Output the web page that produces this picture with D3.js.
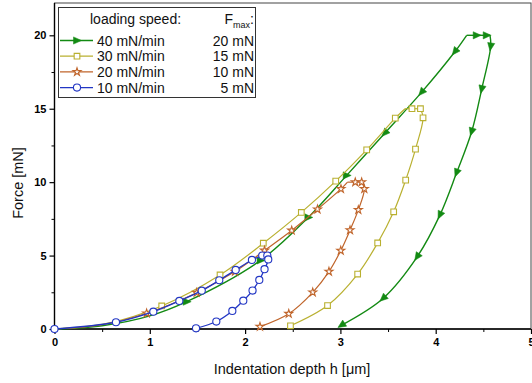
<!DOCTYPE html>
<html>
<head>
<meta charset="utf-8">
<script src="https://cdn.jsdelivr.net/npm/d3@7"></script>
<style>
  body { margin: 0; background: #fff; }
  svg { display: block; font-family: "Liberation Sans", Arial, sans-serif; }
</style>
</head>
<body>
<svg id="chart" width="532" height="383"></svg>
<script>
// [depth h (µm), force (mN), has marker]
const load40 = [[0,0,0],[0.5,0.22,0],[1.0,0.89,0],[1.387,1.86,1],[2.162,4.67,1],[2.663,7.6,1],[3.066,10.46,1],[3.468,13.35,1],[3.853,16.13,1],[4.203,18.9,1],[4.325,20,0]];
const hold40 = [[4.325,20,0],[4.43,20,1],[4.535,20,1],[4.57,20,0]];
const unload40 = [[4.57,20,0],[4.577,19.24,1],[4.483,16.34,1],[4.378,13.45,1],[4.22,10.65,1],[4.045,7.77,1],[3.807,4.93,1],[3.45,2.1,1],[3.014,0.27,1]];

const load30 = [[0,0,0],[0.55,0.38,0],[1.125,1.57,1],[1.737,3.68,1],[2.191,5.84,1],[2.59,7.94,1],[2.951,10.07,1],[3.276,12.2,1],[3.576,14.36,1],[3.678,15,0]];
const hold30 = [[3.678,15,0],[3.751,15,1],[3.84,15,1]];
const unload30 = [[3.84,15,0],[3.867,14.38,1],[3.788,12.25,1],[3.685,10.14,1],[3.559,7.98,1],[3.391,5.86,1],[3.181,3.74,1],[2.865,1.6,1],[2.476,0.22,1]];

const load20 = [[0,0,0],[0.5,0.29,0],[0.967,1.07,1],[1.492,2.47,1],[1.894,3.91,1],[2.204,5.35,1],[2.489,6.71,1],[2.76,8.15,1],[3.006,9.54,1],[3.075,10,0]];
const hold20 = [[3.075,10,0],[3.156,10,1],[3.223,10,1]];
const unload20 = [[3.223,10,0],[3.251,9.54,1],[3.188,8.11,1],[3.101,6.73,1],[3.004,5.34,1],[2.88,3.91,1],[2.71,2.5,1],[2.458,1.04,1],[2.156,0.16,1]];

const load10 = [[0,0,1],[0.645,0.46,1],[1.037,1.18,1],[1.31,1.91,1],[1.545,2.61,1],[1.729,3.32,1],[1.901,4.02,1],[2.072,4.7,1],[2.18,5,0]];
const hold10 = [[2.18,5,1],[2.233,5,1]];
const unload10 = [[2.233,5,0],[2.243,4.74,1],[2.204,4.07,1],[2.149,3.34,1],[2.078,2.62,1],[1.981,1.93,1],[1.866,1.23,1],[1.698,0.51,1],[1.485,0.05,1]];

const speedLabels = ['40 mN/min', '30 mN/min', '20 mN/min', '10 mN/min'];
const fmaxLabels = ['20 mN', '15 mN', '10 mN', '5 mN'];
const xTicks = [0, 1, 2, 3, 4, 5];
const yTicks = [0, 5, 10, 15, 20];

const series = [
  { name: speedLabels[0], phases: [load40, hold40, unload40], color: '#138a13', marker: 'tri', width: 1.4 },
  { name: speedLabels[1], phases: [load30, hold30, unload30], color: '#b9b030', marker: 'square', width: 1.2 },
  { name: speedLabels[2], phases: [load20, hold20, unload20], color: '#c0652b', marker: 'star', width: 1.2 },
  { name: speedLabels[3], phases: [load10, hold10, unload10], color: '#2236c4', marker: 'circle', width: 1.3 }
];

const svg = d3.select('#chart');
const x = d3.scaleLinear().domain([0, 5]).range([54.5, 531]);
const y = d3.scaleLinear().domain([0, 22.2]).range([329, 3]);

// frame
svg.append('rect')
  .attr('x', x(0)).attr('y', y(22.2))
  .attr('width', x(5) - x(0)).attr('height', y(0) - y(22.2))
  .attr('fill', 'none').attr('stroke', '#444').attr('stroke-width', 1);

// minor ticks
svg.append('g').attr('transform', `translate(0,${y(0)})`)
  .call(d3.axisBottom(x).tickValues(d3.range(0.5, 5, 1)).tickSize(3).tickFormat(''))
  .call(g => g.select('.domain').remove());
svg.append('g').attr('transform', `translate(${x(0)},0)`)
  .call(d3.axisLeft(y).tickValues([2.5, 7.5, 12.5, 17.5]).tickSize(3).tickFormat(''))
  .call(g => g.select('.domain').remove());

const xAxis = svg.append('g').attr('transform', `translate(0,${y(0)})`)
  .call(d3.axisBottom(x).tickValues(xTicks).tickFormat(d3.format('d')).tickSize(5).tickPadding(4).tickSizeOuter(0));
const yAxis = svg.append('g').attr('transform', `translate(${x(0)},0)`)
  .call(d3.axisLeft(y).tickValues(yTicks).tickFormat(d3.format('d')).tickSize(5).tickPadding(3).tickSizeOuter(0));

[xAxis, yAxis].forEach(a => {
  a.select('.domain').attr('stroke', '#000').attr('stroke-width', 1.4);
  a.selectAll('.tick line').attr('stroke', '#000').attr('stroke-width', 1.2);
  a.selectAll('.tick text').attr('font-size', 11).attr('font-weight', 'bold')
    .attr('fill', '#000').attr('font-family', '"Liberation Sans", Arial, sans-serif');
});
svg.selectAll('.tick line').attr('stroke', '#000');
yAxis.select('.domain').attr('d', `M0,${y(0)}V${y(22.2)}`);
xAxis.select('.domain').attr('d', `M${x(0)},0H${x(5)}`);

// axis titles
svg.append('text')
  .attr('x', 292).attr('y', 374).attr('text-anchor', 'middle')
  .attr('font-size', 14.5).attr('fill', '#111')
  .text('Indentation depth h [μm]');
svg.append('text')
  .attr('transform', 'translate(23,183) rotate(-90)').attr('text-anchor', 'middle')
  .attr('font-size', 14.5).attr('fill', '#111')
  .text('Force [mN]');

// markers
function drawMarker(g, type, color, cx, cy, angle) {
  if (type === 'tri') {
    g.append('path')
      .attr('d', 'M4.5,0L-3.5,-3.6L-3.5,3.6Z')
      .attr('transform', `translate(${cx},${cy}) rotate(${angle})`)
      .attr('fill', color).attr('stroke', color).attr('stroke-width', 0.5);
  } else {
    const sym = type === 'square' ? d3.symbolSquare : type === 'star' ? d3.symbolStar : d3.symbolCircle;
    const size = type === 'square' ? 32 : type === 'star' ? 20 : 40;
    g.append('path')
      .attr('d', d3.symbol().type(sym).size(size)())
      .attr('transform', `translate(${cx},${cy})`)
      .attr('fill', '#fff').attr('stroke', color).attr('stroke-width', 1.1);
  }
}

const line = d3.line().x(d => x(d[0])).y(d => y(d[1]));
const curved = d3.line().x(d => x(d[0])).y(d => y(d[1])).curve(d3.curveCatmullRom.alpha(0.5));

series.forEach(s => {
  const g = svg.append('g');
  s.phases.forEach((pts, pi) => {
    g.append('path').datum(pts)
      .attr('d', pi === 1 ? line : curved)
      .attr('fill', 'none').attr('stroke', s.color).attr('stroke-width', s.width)
      .attr('stroke-linejoin', 'round');
  });
  s.phases.forEach((pts, pi) => {
    pts.forEach((d, i) => {
      if (!d[2]) return;
      const prev = pts[Math.max(0, i - 1)], next = pts[Math.min(pts.length - 1, i + 1)];
      let ang = Math.atan2(y(next[1]) - y(prev[1]), x(next[0]) - x(prev[0])) * 180 / Math.PI;
      if (pi === 0) ang = d[1] < 12 ? 0 : ang + 180;
      drawMarker(g, s.marker, s.color, x(d[0]), y(d[1]), ang);
    });
  });
});

// legend
const lg = svg.append('g');
lg.append('rect').attr('x', 58.5).attr('y', 7.5).attr('width', 197).attr('height', 90)
  .attr('fill', '#fff').attr('stroke', '#333').attr('stroke-width', 1);
lg.append('text').attr('x', 90).attr('y', 24).attr('font-size', 14).attr('fill', '#111')
  .text('loading speed:');
const fm = lg.append('text').attr('x', 254).attr('y', 24).attr('text-anchor', 'end')
  .attr('font-size', 14).attr('fill', '#111');
fm.append('tspan').text('F');
fm.append('tspan').attr('font-size', 9).attr('dy', 4).text('max');
fm.append('tspan').attr('dy', -4).text(':');

series.forEach((s, i) => {
  const cy = 40.5 + i * 15.7;
  lg.append('line').attr('x1', 60).attr('x2', 93).attr('y1', cy).attr('y2', cy)
    .attr('stroke', s.color).attr('stroke-width', s.width);
  drawMarker(lg, s.marker, s.color, 77, cy, 0);
  lg.append('text').attr('x', 97).attr('y', cy + 5).attr('font-size', 14).attr('fill', '#111')
    .text(speedLabels[i]);
  lg.append('text').attr('x', 254).attr('y', cy + 5).attr('text-anchor', 'end')
    .attr('font-size', 14).attr('fill', '#111').text(fmaxLabels[i]);
});
</script>
</body>
</html>
